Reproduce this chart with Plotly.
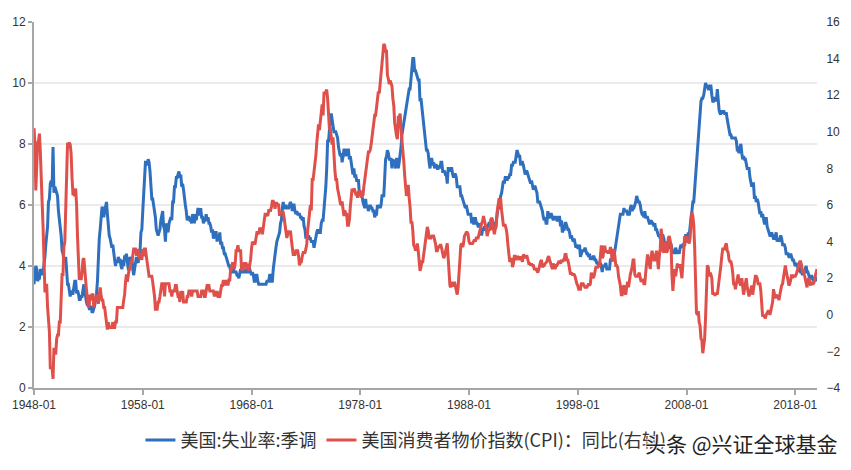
import pandas as pd
import plotly.graph_objects as go

# Monthly dates 1948-01 .. 2020-01
dates = pd.date_range("1948-01-01", "2020-01-01", freq="MS")

# 美国:失业率:季调 (%)
unemployment = [
    3.4, 3.8, 4.0, 3.9, 3.5, 3.6, 3.6, 3.9, 3.8, 3.7, 3.8, 4.0,
    4.3, 4.7, 5.0, 5.3, 6.1, 6.2, 6.7, 6.8, 6.6, 7.9, 6.4, 6.6,
    6.5, 6.4, 6.3, 5.8, 5.5, 5.4, 5.0, 4.5, 4.4, 4.2, 4.2, 4.3,
    3.7, 3.4, 3.4, 3.1, 3.0, 3.2, 3.1, 3.1, 3.3, 3.5, 3.5, 3.1,
    3.2, 3.1, 2.9, 2.9, 3.0, 3.0, 3.2, 3.4, 3.1, 3.0, 2.8, 2.7,
    2.9, 2.6, 2.6, 2.7, 2.5, 2.5, 2.6, 2.7, 2.9, 3.1, 3.5, 4.5,
    4.9, 5.2, 5.7, 5.9, 5.9, 5.6, 5.8, 6.0, 6.1, 5.7, 5.3, 5.0,
    4.9, 4.7, 4.6, 4.7, 4.3, 4.2, 4.0, 4.2, 4.1, 4.3, 4.2, 4.2,
    4.0, 3.9, 4.2, 4.0, 4.3, 4.3, 4.4, 4.1, 3.9, 3.9, 4.3, 4.2,
    4.2, 3.9, 3.7, 3.9, 4.1, 4.3, 4.2, 4.1, 4.4, 4.5, 5.1, 5.2,
    5.8, 6.4, 6.7, 7.4, 7.4, 7.3, 7.5, 7.4, 7.1, 6.7, 6.2, 6.2,
    6.0, 5.9, 5.6, 5.2, 5.1, 5.0, 5.1, 5.2, 5.5, 5.7, 5.8, 5.3,
    5.2, 4.8, 5.4, 5.2, 5.1, 5.4, 5.5, 5.6, 5.5, 6.1, 6.1, 6.6,
    6.6, 6.9, 6.9, 7.0, 7.1, 6.9, 7.0, 6.6, 6.7, 6.5, 6.1, 6.0,
    5.8, 5.5, 5.6, 5.6, 5.5, 5.5, 5.4, 5.7, 5.6, 5.4, 5.7, 5.5,
    5.7, 5.9, 5.7, 5.7, 5.9, 5.6, 5.6, 5.4, 5.5, 5.5, 5.7, 5.5,
    5.6, 5.4, 5.4, 5.3, 5.1, 5.2, 4.9, 5.0, 5.1, 5.1, 4.8, 5.0,
    4.9, 5.1, 4.7, 4.8, 4.6, 4.6, 4.4, 4.4, 4.3, 4.2, 4.1, 4.0,
    4.0, 3.8, 3.8, 3.8, 3.9, 3.8, 3.8, 3.8, 3.7, 3.7, 3.6, 3.8,
    3.9, 3.8, 3.8, 3.8, 3.8, 3.9, 3.8, 3.8, 3.8, 4.0, 3.9, 3.8,
    3.7, 3.8, 3.7, 3.5, 3.5, 3.7, 3.7, 3.5, 3.4, 3.4, 3.4, 3.4,
    3.4, 3.4, 3.4, 3.4, 3.4, 3.5, 3.5, 3.5, 3.7, 3.7, 3.5, 3.5,
    3.9, 4.2, 4.4, 4.6, 4.8, 4.9, 5.0, 5.1, 5.4, 5.5, 5.9, 6.1,
    5.9, 5.9, 6.0, 5.9, 5.9, 5.9, 6.0, 6.1, 6.0, 5.8, 6.0, 6.0,
    5.8, 5.7, 5.8, 5.7, 5.7, 5.7, 5.6, 5.6, 5.5, 5.6, 5.3, 5.2,
    4.9, 5.0, 4.9, 5.0, 4.9, 4.9, 4.8, 4.8, 4.8, 4.6, 4.8, 4.9,
    5.1, 5.2, 5.1, 5.1, 5.1, 5.4, 5.5, 5.5, 5.9, 6.0, 6.6, 7.2,
    8.1, 8.1, 8.6, 8.8, 9.0, 8.8, 8.6, 8.4, 8.4, 8.4, 8.3, 8.2,
    7.9, 7.7, 7.6, 7.7, 7.4, 7.6, 7.8, 7.8, 7.6, 7.7, 7.8, 7.8,
    7.5, 7.6, 7.4, 7.2, 7.0, 7.2, 6.9, 7.0, 6.8, 6.8, 6.8, 6.4,
    6.4, 6.3, 6.3, 6.1, 6.0, 5.9, 6.2, 5.9, 6.0, 5.8, 5.9, 6.0,
    5.9, 5.9, 5.8, 5.8, 5.6, 5.7, 5.7, 6.0, 5.9, 6.0, 5.9, 6.0,
    6.3, 6.3, 6.3, 6.9, 7.5, 7.6, 7.8, 7.7, 7.5, 7.5, 7.5, 7.2,
    7.5, 7.4, 7.4, 7.2, 7.5, 7.5, 7.2, 7.4, 7.6, 7.9, 8.3, 8.5,
    8.6, 8.9, 9.0, 9.3, 9.4, 9.6, 9.8, 9.8, 10.1, 10.4, 10.8, 10.8,
    10.4, 10.4, 10.3, 10.2, 10.1, 10.1, 9.4, 9.5, 9.2, 8.8, 8.5, 8.3,
    8.0, 7.8, 7.8, 7.7, 7.4, 7.2, 7.5, 7.5, 7.3, 7.4, 7.2, 7.3,
    7.3, 7.2, 7.2, 7.3, 7.2, 7.4, 7.4, 7.1, 7.1, 7.1, 7.0, 7.0,
    6.7, 7.2, 7.2, 7.1, 7.2, 7.2, 7.0, 6.9, 7.0, 7.0, 6.9, 6.6,
    6.6, 6.6, 6.6, 6.3, 6.3, 6.2, 6.1, 6.0, 5.9, 6.0, 5.8, 5.7,
    5.7, 5.7, 5.7, 5.4, 5.6, 5.4, 5.4, 5.6, 5.4, 5.4, 5.3, 5.3,
    5.4, 5.2, 5.0, 5.2, 5.2, 5.3, 5.2, 5.2, 5.3, 5.3, 5.4, 5.4,
    5.4, 5.3, 5.2, 5.4, 5.4, 5.2, 5.5, 5.7, 5.9, 5.9, 6.2, 6.3,
    6.4, 6.6, 6.8, 6.7, 6.9, 6.9, 6.8, 6.9, 6.9, 7.0, 7.0, 7.3,
    7.3, 7.4, 7.4, 7.4, 7.6, 7.8, 7.7, 7.6, 7.6, 7.3, 7.4, 7.4,
    7.3, 7.1, 7.0, 7.1, 7.1, 7.0, 6.9, 6.8, 6.7, 6.8, 6.6, 6.5,
    6.6, 6.6, 6.5, 6.4, 6.1, 6.1, 6.1, 6.0, 5.9, 5.8, 5.6, 5.5,
    5.6, 5.4, 5.4, 5.8, 5.6, 5.6, 5.7, 5.7, 5.6, 5.5, 5.6, 5.6,
    5.6, 5.5, 5.5, 5.6, 5.6, 5.3, 5.5, 5.1, 5.2, 5.2, 5.4, 5.4,
    5.3, 5.2, 5.2, 5.1, 4.9, 5.0, 4.9, 4.8, 4.9, 4.7, 4.6, 4.7,
    4.6, 4.6, 4.7, 4.3, 4.4, 4.5, 4.5, 4.5, 4.6, 4.5, 4.4, 4.4,
    4.3, 4.4, 4.2, 4.3, 4.2, 4.3, 4.3, 4.2, 4.2, 4.1, 4.1, 4.0,
    4.0, 4.1, 4.0, 3.8, 4.0, 4.0, 4.0, 4.1, 3.9, 3.9, 3.9, 3.9,
    4.2, 4.2, 4.3, 4.4, 4.3, 4.5, 4.6, 4.9, 5.0, 5.3, 5.5, 5.7,
    5.7, 5.7, 5.7, 5.9, 5.8, 5.8, 5.8, 5.7, 5.7, 5.7, 5.9, 6.0,
    5.8, 5.9, 5.9, 6.0, 6.1, 6.3, 6.2, 6.1, 6.1, 6.0, 5.8, 5.7,
    5.7, 5.6, 5.8, 5.6, 5.6, 5.6, 5.5, 5.4, 5.4, 5.5, 5.4, 5.4,
    5.3, 5.4, 5.2, 5.2, 5.1, 5.0, 5.0, 4.9, 5.0, 5.0, 5.0, 4.9,
    4.7, 4.8, 4.7, 4.7, 4.6, 4.6, 4.7, 4.7, 4.5, 4.4, 4.5, 4.4,
    4.6, 4.5, 4.4, 4.5, 4.4, 4.6, 4.7, 4.6, 4.7, 4.7, 4.7, 5.0,
    5.0, 4.9, 5.1, 5.0, 5.4, 5.6, 5.8, 6.1, 6.1, 6.5, 6.8, 7.3,
    7.8, 8.3, 8.7, 9.0, 9.4, 9.5, 9.5, 9.6, 9.8, 10.0, 9.9, 9.9,
    9.8, 9.8, 9.9, 9.9, 9.6, 9.4, 9.4, 9.5, 9.5, 9.4, 9.8, 9.3,
    9.1, 9.0, 9.0, 9.1, 9.0, 9.1, 9.0, 9.0, 9.0, 8.8, 8.6, 8.5,
    8.3, 8.3, 8.2, 8.2, 8.2, 8.2, 8.2, 8.1, 7.8, 7.8, 7.7, 7.9,
    8.0, 7.7, 7.5, 7.6, 7.5, 7.5, 7.3, 7.2, 7.2, 7.2, 6.9, 6.7,
    6.6, 6.7, 6.7, 6.2, 6.3, 6.1, 6.2, 6.1, 5.9, 5.7, 5.8, 5.6,
    5.7, 5.5, 5.4, 5.4, 5.6, 5.3, 5.2, 5.1, 5.0, 5.0, 5.1, 5.0,
    4.9, 4.9, 5.0, 5.1, 4.8, 4.9, 4.8, 4.9, 5.0, 4.9, 4.7, 4.7,
    4.7, 4.6, 4.4, 4.4, 4.4, 4.3, 4.3, 4.4, 4.3, 4.2, 4.2, 4.1,
    4.0, 4.1, 4.0, 4.0, 3.8, 4.0, 3.8, 3.8, 3.7, 3.8, 3.8, 3.9,
    4.0, 3.8, 3.8, 3.7, 3.6, 3.6, 3.7, 3.6, 3.5, 3.6, 3.6, 3.6,
    3.5,
]

# 美国消费者物价指数(CPI):同比 (%)
cpi_yoy = [
    10.2, 9.3, 6.8, 8.2, 9.4, 9.5, 9.9, 8.9, 6.5, 6.1, 4.8, 3.0,
    1.3, 1.3, 1.7, 0.4, -0.4, -0.9, -2.9, -2.9, -2.9, -3.5, -1.8, -2.1,
    -2.1, -1.3, -1.1, -1.1, -0.4, -0.4, 1.7, 2.2, 2.2, 3.7, 4.0, 5.9,
    8.1, 9.4, 9.3, 9.4, 9.3, 8.8, 7.5, 6.6, 6.6, 6.5, 6.9, 6.0,
    4.3, 2.3, 1.9, 2.3, 1.9, 2.3, 3.0, 3.1, 2.3, 1.9, 1.3, 0.9,
    0.4, 0.6, 1.1, 0.8, 1.1, 1.1, 0.4, 0.8, 0.8, 1.1, 0.8, 0.6,
    1.1, 1.5, 1.1, 0.8, 0.8, 0.4, 0.4, 0.0, -0.4, -0.8, -0.4, -0.7,
    -0.7, -0.7, -0.7, -0.4, -0.7, -0.7, -0.4, -0.4, 0.4, 0.4, 0.4, 0.4,
    0.4, 0.4, 0.4, 0.8, 1.1, 1.8, 2.2, 1.8, 2.2, 2.5, 2.5, 2.9,
    2.9, 3.3, 3.6, 3.6, 3.6, 3.3, 3.3, 3.6, 3.3, 3.0, 3.3, 3.0,
    3.6, 3.2, 3.6, 3.6, 3.2, 2.8, 2.4, 2.1, 2.1, 2.1, 2.1, 1.8,
    1.4, 1.0, 0.3, 0.3, 0.3, 0.7, 0.7, 1.0, 1.4, 1.7, 1.7, 1.7,
    1.0, 1.7, 1.7, 1.7, 1.7, 1.7, 1.3, 1.3, 1.0, 1.3, 1.3, 1.3,
    1.6, 1.6, 1.3, 1.0, 1.0, 0.7, 1.3, 1.0, 1.3, 0.7, 0.7, 0.7,
    0.7, 1.0, 1.0, 1.3, 1.3, 1.3, 1.0, 1.3, 1.3, 1.3, 1.3, 1.3,
    1.3, 1.0, 1.0, 1.0, 1.0, 1.3, 1.3, 1.3, 1.0, 1.0, 1.3, 1.6,
    1.6, 1.6, 1.3, 1.3, 1.3, 1.3, 1.3, 1.0, 1.3, 1.0, 1.3, 1.0,
    1.0, 1.0, 1.3, 1.6, 1.6, 1.9, 1.6, 1.9, 1.6, 1.9, 1.6, 1.9,
    1.9, 2.5, 2.5, 2.8, 2.8, 2.5, 2.8, 3.5, 3.5, 3.8, 3.5, 3.5,
    3.5, 2.5, 2.5, 2.5, 2.8, 2.8, 2.8, 2.5, 2.8, 2.4, 2.7, 3.0,
    3.6, 4.0, 3.9, 3.9, 3.9, 4.2, 4.5, 4.5, 4.4, 4.7, 4.7, 4.7,
    4.4, 4.7, 5.2, 5.5, 5.5, 5.5, 5.4, 5.7, 5.7, 5.7, 5.9, 6.2,
    6.2, 6.1, 5.8, 6.1, 6.1, 6.0, 6.0, 5.4, 5.6, 5.6, 5.6, 5.6,
    5.3, 5.0, 4.7, 4.2, 4.4, 4.6, 4.4, 4.6, 4.1, 3.8, 3.3, 3.3,
    3.3, 3.5, 3.5, 3.5, 3.2, 2.7, 2.9, 2.9, 3.2, 3.4, 3.4, 3.4,
    3.6, 3.9, 4.6, 5.1, 5.5, 6.0, 5.7, 7.4, 7.4, 7.8, 8.3, 8.7,
    9.4, 10.0, 10.4, 10.1, 10.7, 10.9, 11.5, 10.9, 12.1, 12.1, 12.2, 12.3,
    11.8, 11.2, 10.2, 10.2, 9.5, 9.3, 9.7, 8.6, 7.9, 7.4, 7.4, 6.9,
    6.7, 6.4, 6.1, 6.0, 6.2, 5.9, 5.4, 5.7, 5.5, 5.5, 4.9, 4.9,
    5.2, 5.9, 6.4, 6.9, 6.7, 6.9, 6.8, 6.6, 6.6, 6.4, 6.7, 6.7,
    6.8, 6.4, 6.6, 6.5, 7.0, 7.4, 7.7, 7.9, 8.3, 8.9, 8.9, 9.0,
    9.3, 9.9, 10.1, 10.5, 10.9, 10.9, 11.3, 11.8, 12.2, 12.1, 12.6, 13.3,
    13.9, 14.2, 14.8, 14.7, 14.4, 14.4, 13.1, 12.9, 12.6, 12.8, 12.6, 12.5,
    11.8, 11.4, 10.5, 10.0, 9.8, 9.6, 10.8, 10.8, 11.0, 10.1, 9.6, 8.9,
    8.4, 7.6, 6.8, 6.5, 6.7, 7.1, 6.4, 5.9, 5.0, 5.1, 4.6, 3.8,
    3.7, 3.5, 3.6, 3.9, 3.5, 2.6, 2.4, 2.6, 2.9, 2.9, 3.3, 3.8,
    4.2, 4.6, 4.8, 4.6, 4.2, 4.2, 4.2, 4.3, 4.3, 4.3, 4.1, 3.9,
    3.5, 3.5, 3.7, 3.7, 3.8, 3.8, 3.6, 3.3, 3.1, 3.2, 3.5, 3.8,
    3.9, 3.1, 2.3, 1.6, 1.5, 1.8, 1.6, 1.6, 1.8, 1.5, 1.3, 1.1,
    1.5, 2.1, 3.0, 3.8, 3.9, 3.7, 3.9, 4.3, 4.4, 4.5, 4.5, 4.4,
    4.0, 3.9, 3.9, 3.9, 3.9, 4.0, 4.1, 4.0, 4.2, 4.2, 4.2, 4.4,
    4.7, 4.8, 5.0, 5.1, 5.4, 5.2, 5.0, 4.7, 4.3, 4.5, 4.7, 4.6,
    5.2, 5.3, 5.2, 4.7, 4.4, 4.7, 4.8, 5.6, 6.2, 6.3, 6.3, 6.3,
    5.7, 5.3, 4.9, 4.9, 4.9, 4.7, 4.4, 3.8, 3.4, 2.9, 3.0, 3.1,
    2.6, 2.8, 3.2, 3.2, 3.0, 3.1, 3.2, 3.1, 3.0, 3.2, 3.0, 2.9,
    3.3, 3.2, 3.1, 3.2, 3.2, 3.0, 2.8, 2.8, 2.7, 2.8, 2.7, 2.7,
    2.5, 2.5, 2.5, 2.4, 2.3, 2.5, 2.8, 2.9, 3.0, 2.6, 2.7, 2.7,
    2.8, 2.9, 2.9, 3.1, 3.2, 3.0, 2.8, 2.6, 2.5, 2.8, 2.6, 2.5,
    2.7, 2.7, 2.8, 2.9, 2.9, 2.8, 3.0, 2.9, 3.0, 3.0, 3.3, 3.3,
    3.0, 3.0, 2.8, 2.5, 2.2, 2.3, 2.2, 2.2, 2.2, 2.1, 1.8, 1.7,
    1.6, 1.4, 1.4, 1.4, 1.7, 1.7, 1.7, 1.6, 1.5, 1.5, 1.5, 1.6,
    1.7, 1.6, 1.7, 2.3, 2.1, 2.0, 2.1, 2.3, 2.6, 2.6, 2.6, 2.7,
    2.7, 3.2, 3.8, 3.1, 3.2, 3.7, 3.7, 3.4, 3.5, 3.4, 3.4, 3.4,
    3.7, 3.5, 2.9, 3.3, 3.6, 3.2, 2.7, 2.7, 2.6, 2.1, 1.9, 1.6,
    1.1, 1.1, 1.5, 1.6, 1.2, 1.1, 1.5, 1.8, 1.5, 2.0, 2.2, 2.4,
    2.6, 3.0, 3.0, 2.2, 2.1, 2.1, 2.1, 2.2, 2.3, 2.0, 1.8, 1.9,
    1.9, 1.7, 1.7, 2.3, 3.1, 3.3, 3.0, 2.7, 2.5, 3.2, 3.5, 3.3,
    3.0, 3.0, 3.1, 3.5, 2.8, 2.5, 3.2, 3.6, 4.7, 4.3, 3.5, 3.4,
    4.0, 3.6, 3.4, 3.5, 4.2, 4.3, 4.1, 3.8, 2.1, 1.3, 2.0, 2.5,
    2.1, 2.4, 2.8, 2.6, 2.7, 2.7, 2.4, 2.0, 2.8, 3.5, 4.3, 4.1,
    4.3, 4.0, 4.0, 3.9, 4.2, 5.0, 5.6, 5.4, 4.9, 3.7, 1.1, 0.1,
    0.0, 0.2, -0.4, -0.6, -1.3, -1.4, -2.1, -1.5, -1.3, -0.2, 1.8, 2.7,
    2.6, 2.1, 2.3, 2.2, 2.0, 1.1, 1.2, 1.1, 1.1, 1.2, 1.1, 1.5,
    1.6, 2.1, 2.7, 3.2, 3.6, 3.6, 3.6, 3.8, 3.9, 3.5, 3.4, 3.0,
    2.9, 2.9, 2.7, 2.3, 1.7, 1.7, 1.4, 1.7, 2.0, 2.2, 1.8, 1.7,
    1.6, 2.0, 1.5, 1.1, 1.4, 1.8, 2.0, 1.5, 1.2, 1.0, 1.2, 1.5,
    1.6, 1.1, 1.5, 2.0, 2.1, 2.1, 2.0, 1.7, 1.7, 1.7, 1.3, 0.8,
    -0.1, 0.0, -0.1, -0.2, 0.0, 0.1, 0.2, 0.2, 0.0, 0.2, 0.5, 0.7,
    1.4, 1.0, 0.9, 1.1, 1.0, 1.0, 0.8, 1.1, 1.5, 1.6, 1.7, 2.1,
    2.5, 2.7, 2.4, 2.2, 1.9, 1.6, 1.7, 1.9, 2.2, 2.0, 2.2, 2.1,
    2.1, 2.2, 2.4, 2.5, 2.8, 2.9, 2.9, 2.7, 2.3, 2.5, 2.2, 1.9,
    1.6, 1.5, 1.9, 2.0, 1.8, 1.6, 1.8, 1.7, 1.7, 1.8, 2.1, 2.3,
    2.5,
]

x_tick_vals = ["1948-01-01", "1958-01-01", "1968-01-01", "1978-01-01",
               "1988-01-01", "1998-01-01", "2008-01-01", "2018-01-01"]
x_tick_text = ["1948-01", "1958-01", "1968-01", "1978-01",
               "1988-01", "1998-01", "2008-01", "2018-01"]

name_unemp = "美国:失业率:季调"
name_cpi = "美国消费者物价指数(CPI)：同比(右轴)"

n = min(len(dates), len(unemployment), len(cpi_yoy))
dates = dates[:n]

BLUE = "#2e6fbe"
RED = "#e0504b"
FONT = "Arial, 'Liberation Sans', 'Noto Sans CJK SC', sans-serif"

fig = go.Figure()
fig.add_trace(go.Scatter(x=dates, y=unemployment[:n], name=name_unemp, mode="lines",
                         line=dict(color=BLUE, width=3), yaxis="y"))
fig.add_trace(go.Scatter(x=dates, y=cpi_yoy[:n], name=name_cpi, mode="lines",
                         line=dict(color=RED, width=3), yaxis="y2"))

fig.update_layout(
    width=851, height=470,
    margin=dict(l=34, r=34, t=22, b=81),
    paper_bgcolor="white", plot_bgcolor="white",
    font=dict(family=FONT, size=12, color="#333333"),
    xaxis=dict(
        type="date", range=["1948-01-01", "2020-01-01"],
        tickvals=x_tick_vals, ticktext=x_tick_text,
        showgrid=False, showline=True, linecolor="#a6a6a6", linewidth=2,
        ticks="outside", ticklen=5, tickwidth=2, tickcolor="#a6a6a6",
        tickfont=dict(size=12, color="#333333"), zeroline=False,
    ),
    yaxis=dict(
        range=[0, 12], tickvals=[0, 2, 4, 6, 8, 10, 12],
        showgrid=True, gridcolor="#ebebeb", gridwidth=2,
        showline=True, linecolor="#a6a6a6", linewidth=2,
        ticks="outside", ticklen=4, tickwidth=2, tickcolor="#a6a6a6",
        tickfont=dict(size=12, color="#333333"), zeroline=False,
    ),
    yaxis2=dict(
        range=[-4, 16], tickvals=list(range(-4, 17, 2)),
        overlaying="y", side="right", showgrid=False, showline=False,
        ticks="outside", ticklen=6, tickcolor="rgba(0,0,0,0)",
        tickfont=dict(size=12, color="#333333"), zeroline=False,
    ),
    legend=dict(
        orientation="h", x=0.475, xanchor="center", y=-0.14, yanchor="middle",
        font=dict(size=18, color="#333333", family="'Noto Sans CJK SC', Arial, sans-serif"),
        bgcolor="rgba(0,0,0,0)", itemwidth=30,
    ),
    showlegend=True,
)

fig.add_annotation(
    text="头条 @兴证全球基金", xref="paper", yref="paper",
    x=1.03, y=-0.15, xanchor="right", yanchor="middle", showarrow=False,
    font=dict(size=21, color="#222222", family="'Noto Sans CJK SC', sans-serif",
              shadow="1px 1px 1px #fff, -1px -1px 1px #fff, 1px -1px 1px #fff, -1px 1px 1px #fff"),
)

fig.write_html("out.html")
